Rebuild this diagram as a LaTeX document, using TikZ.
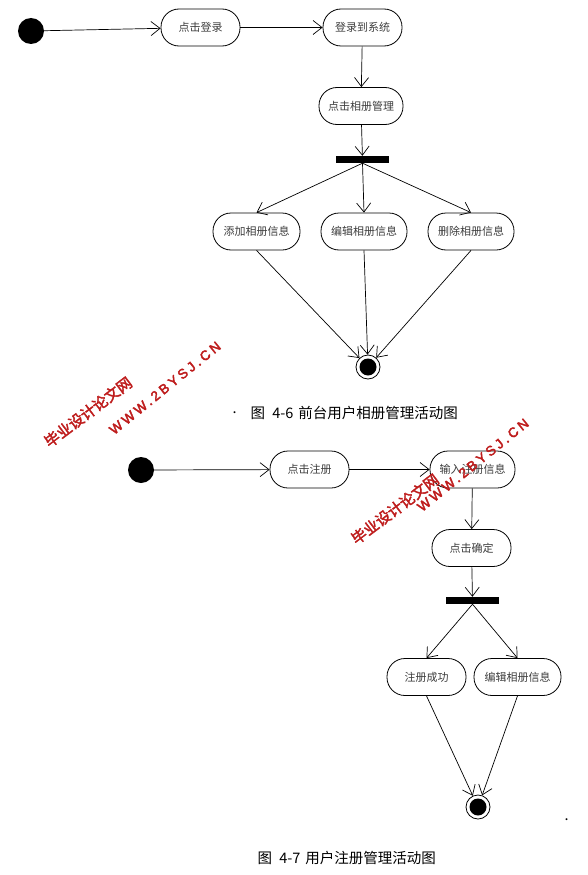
\documentclass[tikz,border=0pt]{standalone}
\usepackage{fontspec}
\usetikzlibrary{arrows.meta}
\newfontfamily\cjk{Noto Sans CJK SC}
\newfontfamily\cjkwm[FakeBold=2.5]{Noto Sans CJK SC}
\newfontfamily\wmfont[LetterSpace=22,FakeBold=3]{Liberation Sans}
\definecolor{wmred}{RGB}{190,28,28}
\definecolor{txtgray}{RGB}{60,60,60}
\begin{document}
\begin{tikzpicture}[x=1pt,y=-1pt,
  act/.style={draw,line width=0.8pt,rounded corners=18pt,minimum height=37pt,
    inner sep=0pt,font=\cjk\fontsize{11}{12}\selectfont,text=txtgray},
  initnode/.style={circle,fill=black,minimum size=26pt,inner sep=0pt},
  finalnode/.style={circle,draw,line width=0.8pt,minimum size=24pt,inner sep=0pt,
    path picture={\fill (path picture bounding box.center) circle (8.5pt);}},
  forkbar/.style={fill=black,minimum width=53pt,minimum height=7pt,inner sep=0pt},
  flow/.style={line width=0.7pt,-{Straight Barb[length=9pt,width=14pt,line width=0.7pt]}},
  caption/.style={font=\cjk\fontsize{14.5}{16}\selectfont,anchor=west},
  wmcn/.style={font=\cjkwm\fontsize{15}{16}\selectfont,text=wmred,rotate=37},
  wmen/.style={font=\wmfont\fontsize{13.5}{14}\selectfont,text=wmred,rotate=39}
]
\useasboundingbox (0,0) rectangle (587,875);

% ---------- diagram 4-6 ----------
\node[initnode] (i1) at (31,31) {};
\node[act,minimum width=79pt] (a1) at (200.5,27.5) {点击登录};
\node[act,minimum width=79pt] (a2) at (362.5,27.5) {登录到系统};
\node[act,minimum width=84pt] (a3) at (361,106) {点击相册管理};
\node[forkbar] (f1) at (362.5,159.5) {};
\node[act,minimum width=87pt] (b1) at (256.5,231.5) {添加相册信息};
\node[act,minimum width=86pt] (b2) at (364,231.5) {编辑相册信息};
\node[act,minimum width=86pt] (b3) at (471,231.5) {删除相册信息};
\node[finalnode] (e1) at (368,367) {};

\draw[flow] (i1) -- (a1);
\draw[flow] (a1) -- (a2);
\draw[flow] (a2) -- (a3);
\draw[flow] (a3) -- (f1);
\draw[flow] (f1.south) -- (b1.north);
\draw[flow] (f1.south) -- (b2.north);
\draw[flow] (f1.south) -- (b3.north);
\draw[flow] (b1.south) -- (e1);
\draw[flow] (b2.south) -- (e1);
\draw[flow] (b3.south) -- (e1);

\node[caption] (dot1) at (229,413) {.};
\node[caption] (cap1) at (247,413) {图\hspace{0.5em}4-6\hspace{0.35em}前台用户相册管理活动图};

% ---------- diagram 4-7 ----------
\node[initnode] (i2) at (141,470) {};
\node[act,minimum width=79pt] (c1) at (309.5,469.5) {点击注册};
\node[act,minimum width=85pt] (c2) at (472.5,469.5) {输入注册信息};
\node[act,minimum width=79pt] (c3) at (471.5,548) {点击确定};
\node[forkbar] (f2) at (472.5,600.5) {};
\node[act,minimum width=79pt] (d1) at (426.5,677) {注册成功};
\node[act,minimum width=87pt] (d2) at (517.5,677) {编辑相册信息};
\node[finalnode] (e2) at (478,807) {};

\draw[flow] (i2) -- (c1);
\draw[flow] (c1) -- (c2);
\draw[flow] (c2) -- (c3);
\draw[flow] (c3) -- (f2);
\draw[flow] (f2.south) -- (d1.north);
\draw[flow] (f2.south) -- (d2.north);
\draw[flow] (d1.south) -- (e2);
\draw[flow] (d2.south) -- (e2);

\node[caption] (dot2) at (561,820) {.};
\node[caption] (cap2) at (254,858) {图\hspace{0.5em}4-7\hspace{0.35em}用户注册管理活动图};

% ---------- watermarks ----------
\node[wmcn] (w1a) at (88,412) {毕业设计论文网};
\node[wmen] (w1b) at (165,388) {WWW.2BYSJ.CN};
\node[wmcn] (w2a) at (395,509) {毕业设计论文网};
\node[wmen] (w2b) at (473,465) {WWW.2BYSJ.CN};
\end{tikzpicture}
\end{document}
